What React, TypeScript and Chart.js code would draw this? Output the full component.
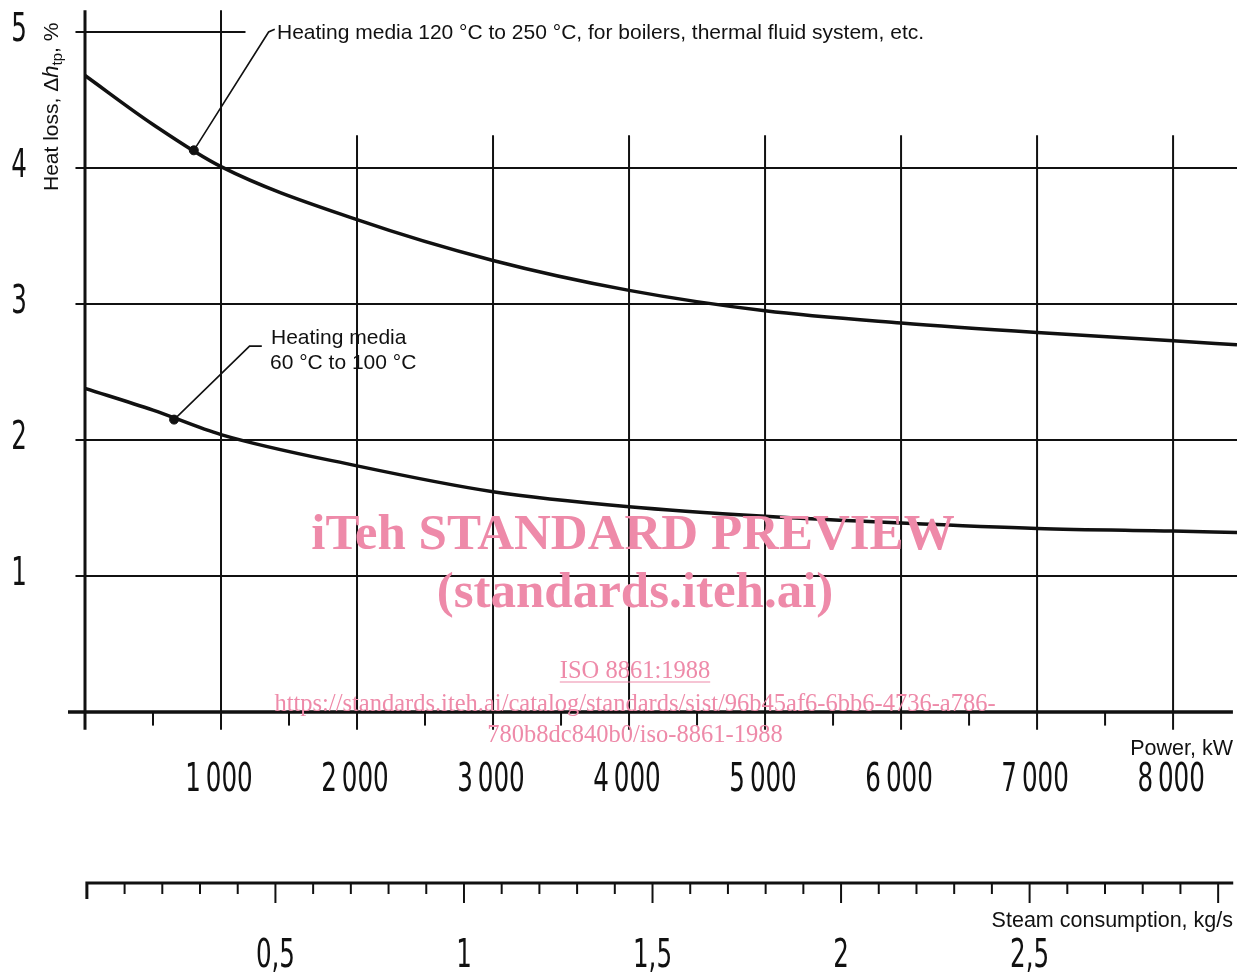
import React, { useEffect, useRef } from "react";
import { Chart, registerables } from "chart.js";

Chart.register(...registerables);

// ---- Data ----
const powerKW = [0, 500, 1000, 2000, 3000, 4000, 5000, 6000, 7000, 8000, 8470];
const highTempLoss = [4.68, 4.32, 4.01, 3.62, 3.32, 3.1, 2.95, 2.86, 2.79, 2.73, 2.7];
const lowTempLoss = [2.38, 2.22, 2.04, 1.81, 1.62, 1.51, 1.44, 1.39, 1.35, 1.33, 1.32];
const highMarker = { x: 800, y: 4.13 };
const lowMarker = { x: 655, y: 2.15 };

const powerTicks = [0, 1000, 2000, 3000, 4000, 5000, 6000, 7000, 8000];
const powerTickLabels = ["1\u202F000", "2\u202F000", "3\u202F000", "4\u202F000", "5\u202F000", "6\u202F000", "7\u202F000", "8\u202F000"];
const powerMinorTicks = [500, 1500, 2500, 3500, 4500, 5500, 6500, 7500];
const lossTicks = [1, 2, 3, 4, 5];
const lossTickLabels = ["1", "2", "3", "4", "5"];
const steamTicks = [0, 0.1, 0.2, 0.3, 0.4, 0.5, 0.6, 0.7, 0.8, 0.9, 1, 1.1, 1.2, 1.3, 1.4, 1.5, 1.6, 1.7, 1.8, 1.9, 2, 2.1, 2.2, 2.3, 2.4, 2.5, 2.6, 2.7, 2.8, 2.9, 3];
const steamLabelValues = [0.5, 1, 1.5, 2, 2.5];
const steamTickLabels = ["0,5", "1", "1,5", "2", "2,5"];

const highLabel = "Heating media 120 \u00B0C to 250 \u00B0C, for boilers, thermal fluid system, etc.";
const lowLabel1 = "Heating media";
const lowLabel2 = "60 \u00B0C to 100 \u00B0C";

const INK = "#111";
const PINK = "#ee8aa9";
const NUM_FONT = '"DejaVu Sans Condensed", "DejaVu Sans", sans-serif';
const TXT_FONT = '"Liberation Sans", Arial, sans-serif';
const SERIF = '"Liberation Serif", "Times New Roman", serif';

// narrow numeral text (horizontally condensed real text)
function narrowText(ctx: any, t: string, x: number, y: number) {
  ctx.save();
  ctx.translate(x, y);
  ctx.scale(0.7, 1);
  ctx.fillText(t, 0, 0);
  ctx.restore();
}

const decorPlugin = {
  id: "decor",
  beforeDatasetsDraw(chart: any) {
    const { ctx } = chart;
    const x = chart.scales.x;
    const y = chart.scales.y;
    const s = chart.scales.steam;
    const px = (v: number) => x.getPixelForValue(v);
    const py = (v: number) => y.getPixelForValue(v);
    ctx.save();
    ctx.strokeStyle = INK;
    ctx.lineCap = "butt";

    // horizontal grid lines
    ctx.lineWidth = 2;
    lossTicks.forEach((v) => {
      ctx.beginPath();
      ctx.moveTo(px(-70), py(v));
      ctx.lineTo(v === 5 ? px(1180) : px(8470), py(v));
      ctx.stroke();
    });

    // vertical grid lines
    powerTicks.forEach((v) => {
      const top = v <= 1000 ? py(5.16) : py(4.24);
      ctx.lineWidth = v === 0 ? 3 : 2;
      ctx.beginPath();
      ctx.moveTo(px(v), top);
      ctx.lineTo(px(v), py(-0.13));
      ctx.stroke();
    });
    // minor ticks
    ctx.lineWidth = 2;
    powerMinorTicks.forEach((v) => {
      ctx.beginPath();
      ctx.moveTo(px(v), py(0));
      ctx.lineTo(px(v), py(-0.1));
      ctx.stroke();
    });
    // x axis line
    ctx.lineWidth = 3.5;
    ctx.beginPath();
    ctx.moveTo(px(-125), py(0));
    ctx.lineTo(px(8440), py(0));
    ctx.stroke();

    // steam consumption axis
    const sy = 883;
    ctx.lineWidth = 3;
    ctx.beginPath();
    ctx.moveTo(s.getPixelForValue(0), sy + 16);
    ctx.lineTo(s.getPixelForValue(0), sy);
    ctx.lineTo(s.getPixelForValue(3.04), sy);
    ctx.stroke();
    ctx.lineWidth = 2;
    steamTicks.forEach((v, i) => {
      if (i === 0) return;
      const major = i % 5 === 0;
      ctx.beginPath();
      ctx.moveTo(s.getPixelForValue(v), sy);
      ctx.lineTo(s.getPixelForValue(v), sy + (major ? 20 : 11));
      ctx.stroke();
    });
    ctx.restore();
  },
  afterDatasetsDraw(chart: any) {
    const { ctx } = chart;
    const x = chart.scales.x;
    const y = chart.scales.y;
    const s = chart.scales.steam;
    const px = (v: number) => x.getPixelForValue(v);
    const py = (v: number) => y.getPixelForValue(v);
    ctx.save();
    ctx.fillStyle = INK;
    ctx.strokeStyle = INK;

    // y tick labels
    ctx.font = `39px ${NUM_FONT}`;
    ctx.textAlign = "center";
    ctx.textBaseline = "middle";
    lossTicks.forEach((v, i) => {
      narrowText(ctx, lossTickLabels[i], 19, py(v) - 1);
    });
    // power tick labels
    powerTicks.slice(1).forEach((v, i) => {
      narrowText(ctx, powerTickLabels[i], px(v) - 2, 781);
    });
    // steam tick labels
    steamLabelValues.forEach((v, i) => {
      narrowText(ctx, steamTickLabels[i], s.getPixelForValue(v), 957);
    });

    // axis titles
    ctx.font = `21.5px ${TXT_FONT}`;
    ctx.textAlign = "right";
    ctx.fillText("Power, kW", 1233, 749);
    ctx.fillText("Steam consumption, kg/s", 1233, 921);

    // rotated y title
    ctx.save();
    ctx.translate(52, 191);
    ctx.rotate(-Math.PI / 2);
    ctx.textAlign = "left";
    ctx.textBaseline = "middle";
    let cx = 0;
    const part = (t: string, font: string, dy: number) => {
      ctx.font = font;
      ctx.fillText(t, cx, dy);
      cx += ctx.measureText(t).width;
    };
    part("Heat loss, \u0394", `21px ${TXT_FONT}`, 0);
    part("h", `italic 22px ${TXT_FONT}`, 0);
    part("tp", `15px ${TXT_FONT}`, 6);
    part(", %", `21px ${TXT_FONT}`, 0);
    ctx.restore();

    // leader lines
    ctx.lineWidth = 1.6;
    ctx.beginPath();
    ctx.moveTo(px(highMarker.x), py(highMarker.y));
    ctx.lineTo(px(1350), py(5.0));
    ctx.lineTo(px(1395), py(5.02));
    ctx.stroke();
    ctx.beginPath();
    ctx.moveTo(px(lowMarker.x), py(lowMarker.y));
    ctx.lineTo(px(1210), py(2.69));
    ctx.lineTo(px(1300), py(2.69));
    ctx.stroke();

    ctx.font = `21px ${TXT_FONT}`;
    ctx.textAlign = "left";
    ctx.textBaseline = "middle";
    ctx.fillText(highLabel, 277, 33);
    ctx.fillText(lowLabel1, 271, 338);
    ctx.fillText(lowLabel2, 270, 363);

    // watermark
    ctx.fillStyle = PINK;
    ctx.strokeStyle = PINK;
    ctx.textAlign = "center";
    ctx.textBaseline = "alphabetic";
    ctx.font = `bold 51px ${SERIF}`;
    ctx.fillText("iTeh STANDARD PREVIEW", 633, 549);
    ctx.fillText("(standards.iteh.ai)", 635, 607);
    ctx.font = `24.5px ${SERIF}`;
    ctx.fillText("ISO 8861:1988", 635, 678);
    const w = ctx.measureText("ISO 8861:1988").width;
    ctx.lineWidth = 1.2;
    ctx.beginPath();
    ctx.moveTo(635 - w / 2, 682);
    ctx.lineTo(635 + w / 2, 682);
    ctx.stroke();
    ctx.fillText("https://standards.iteh.ai/catalog/standards/sist/96b45af6-6bb6-4736-a786-", 635, 711);
    ctx.fillText("780b8dc840b0/iso-8861-1988", 635, 742);
    ctx.restore();
  },
};

export default function App() {
  const ref = useRef<HTMLCanvasElement | null>(null);
  useEffect(() => {
    if (!ref.current) return;
    const chart = new Chart(ref.current, {
      type: "line",
      data: {
        datasets: [
          {
            label: "Heating media 120 °C to 250 °C",
            data: powerKW.map((p, i) => ({ x: p, y: highTempLoss[i] })),
            borderColor: INK,
            borderWidth: 3.5,
            pointRadius: 0,
            cubicInterpolationMode: "monotone",
          },
          {
            label: "Heating media 60 °C to 100 °C",
            data: powerKW.map((p, i) => ({ x: p, y: lowTempLoss[i] })),
            borderColor: INK,
            borderWidth: 3.5,
            pointRadius: 0,
            cubicInterpolationMode: "monotone",
          },
          {
            label: "markers",
            data: [highMarker, lowMarker],
            showLine: false,
            pointRadius: 4.5,
            pointBackgroundColor: INK,
            pointBorderColor: INK,
          },
        ],
      },
      options: {
        responsive: false,
        animation: false,
        devicePixelRatio: 1,
        layout: { padding: { left: 85, right: 8, top: 32, bottom: 266 } },
        plugins: { legend: { display: false }, tooltip: { enabled: false } },
        scales: {
          x: { type: "linear", min: 0, max: 8470, display: false },
          y: { type: "linear", min: 0, max: 5, display: false },
          steam: { type: "linear", axis: "x", position: "bottom", min: -0.005, max: 3.05, display: false },
        },
      },
      plugins: [decorPlugin],
    } as any);
    return () => chart.destroy();
  }, []);
  return (
    <div style={{ position: "fixed", left: 0, top: 0, width: 1245, height: 978, background: "#fff" }}>
      <canvas ref={ref} width={1245} height={978} style={{ width: 1245, height: 978 }} />
    </div>
  );
}
